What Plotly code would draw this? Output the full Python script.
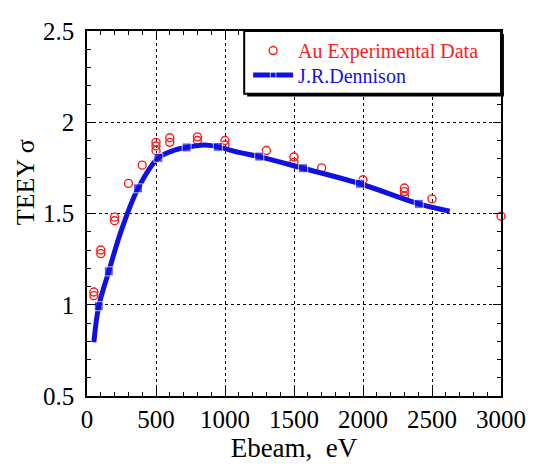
import plotly.graph_objects as go

# Experimental data (red open circles)
exp_E = [50, 50, 100, 100, 200, 200, 300, 400, 500, 500, 500, 600, 600, 800, 800,
         1000, 1000, 1300, 1500, 1500, 1700, 2000, 2300, 2300, 2300, 2500, 3000]
exp_s = [1.05, 1.07, 1.28, 1.30, 1.46, 1.48, 1.665, 1.765, 1.89, 1.87, 1.845, 1.89, 1.915, 1.90, 1.92,
         1.875, 1.90, 1.845, 1.78, 1.81, 1.75, 1.685, 1.595, 1.62, 1.64, 1.58, 1.485]

# J.R.Dennison model curve
mod_E = [50, 85, 158, 250, 370, 517, 640, 722, 850, 948, 1100, 1248, 1566, 1979, 2404, 2628]
mod_s = [0.795, 0.992, 1.183, 1.41, 1.638, 1.805, 1.848, 1.862, 1.875, 1.865, 1.835, 1.812, 1.748, 1.663, 1.553, 1.513]
mod_marker = [0, 9, 9, 0, 9, 9, 0, 9, 0, 9, 0, 9, 9, 9, 9, 0]

x_ticks = [0, 500, 1000, 1500, 2000, 2500, 3000]
x_labels = ["0", "500", "1000", "1500", "2000", "2500", "3000"]
y_ticks = [0.5, 1, 1.5, 2, 2.5]
y_labels = ["0.5", "1", "1.5", "2", "2.5"]

FONT = "Liberation Serif"

fig = go.Figure()
fig.add_trace(go.Scatter(
    x=exp_E, y=exp_s, mode="markers",
    name="Au Experimental Data", legend="legend",
    marker=dict(symbol="circle-open", size=8, color="#ff1a1a", line=dict(width=1.4)),
    cliponaxis=False,
))
fig.add_trace(go.Scatter(
    x=mod_E, y=mod_s, mode="lines+markers",
    name="J.R.Dennison", legend="legend2",
    line=dict(color="#1010e0", width=5, shape="spline", smoothing=1),
    marker=dict(symbol="square", size=mod_marker, color="#1010e0"),
))

W, H = 538, 466
L, R, T, B = 87, 27, 31, 62
pw, ph = W - L - R, H - T - B

def px(xp):
    return (xp - L) / pw

def py(yp):
    return 1 - (yp - T) / ph

# legend box with shadow
lx0, lx1, ly0, ly1 = 248, 511, 31, 95
fig.add_shape(type="rect", xref="paper", yref="paper",
              x0=px(lx0 + 3), x1=px(lx1 + 3), y0=py(ly1 + 3), y1=py(ly0 + 3),
              fillcolor="black", line=dict(width=0), layer="above")
fig.add_shape(type="rect", xref="paper", yref="paper",
              x0=px(lx0), x1=px(lx1), y0=py(ly1), y1=py(ly0),
              fillcolor="white", line=dict(color="black", width=2), layer="above")

axis_common = dict(
    showline=True, linecolor="black", linewidth=1.5, mirror="ticks",
    ticks="inside", tickcolor="black", ticklen=8, tickwidth=1,
    showgrid=True, gridcolor="black", griddash="dot", gridwidth=1,
    zeroline=False,
    tickfont=dict(family=FONT, size=25, color="black"),
)

leg_common = dict(xanchor="left", yanchor="middle", bgcolor="rgba(0,0,0,0)", borderwidth=0,
                  itemwidth=40)

fig.update_layout(
    width=W, height=H,
    margin=dict(l=L, r=R, t=T, b=B),
    paper_bgcolor="white", plot_bgcolor="white",
    font=dict(family=FONT, color="black"),
    xaxis=dict(range=[0, 3000], tickvals=x_ticks, ticktext=x_labels,
               minor=dict(dtick=100, ticks="inside", ticklen=4, tickcolor="black", showgrid=False),
               title=dict(text="Ebeam,  eV", font=dict(family=FONT, size=27, color="black"), standoff=2),
               **axis_common),
    yaxis=dict(range=[0.5, 2.5], tickvals=y_ticks, ticktext=y_labels,
               minor=dict(dtick=0.1, ticks="inside", ticklen=4, tickcolor="black", showgrid=False),
               ticklabelstandoff=6,
               **axis_common),
    showlegend=True,
    legend=dict(x=px(252), y=py(51), font=dict(family=FONT, size=20, color="#ff1a1a"), **leg_common),
    legend2=dict(x=px(252), y=py(76), font=dict(family=FONT, size=20, color="#1414e6"), **leg_common),
    annotations=[dict(text="TEEY σ", textangle=-90, xref="paper", yref="paper",
                      x=px(24), y=py(185), xanchor="center", yanchor="middle",
                      showarrow=False, font=dict(family=FONT, size=26, color="black"))],
)

fig.write_html("out.html")
